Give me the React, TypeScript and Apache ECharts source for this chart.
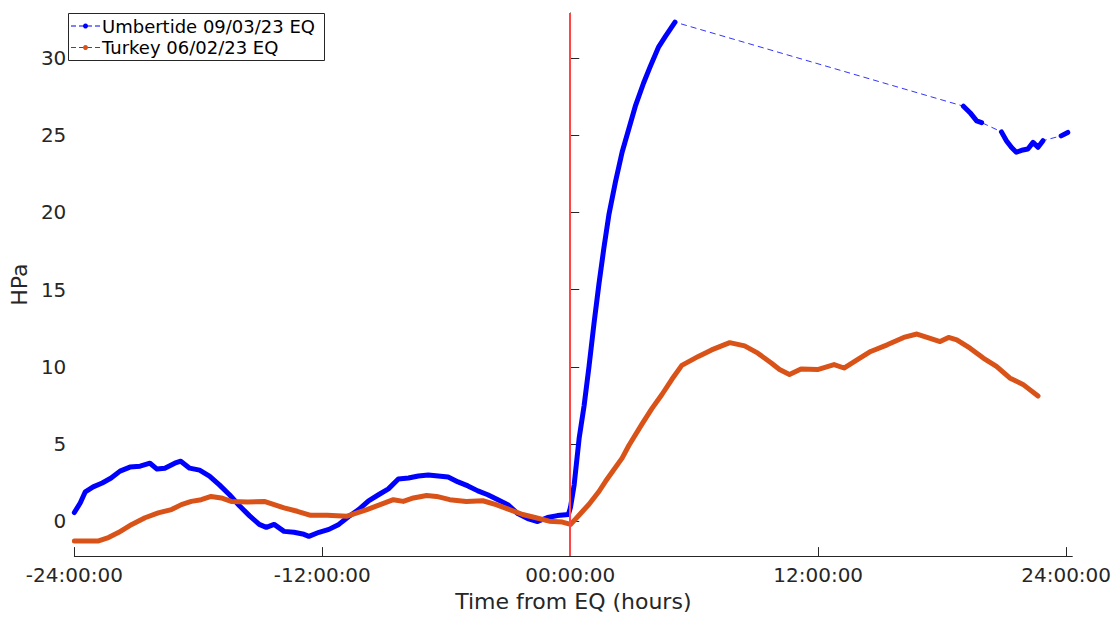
import { useEffect, useRef } from "react";
import * as echarts from "echarts";

const umbHours = [
  -24, -23.71, -23.47, -23.09, -22.65, -22.22, -21.79, -21.31, -20.82, -20.34, -20.0, -19.62, -19.14, -18.85,
  -18.42, -17.94, -17.46, -16.98, -16.49, -16.01, -15.53, -15.05, -14.71, -14.33, -13.85, -13.37, -12.89, -12.65,
  -12.16, -11.68, -11.2, -10.72, -10.24, -9.76, -9.28, -8.8, -8.32, -7.83, -7.35, -6.87, -6.39, -5.91, -5.43,
  -4.95, -4.47, -3.99, -3.5, -3.02, -2.54, -2.06, -1.58, -1.1, -0.62, -0.09, 0.01, 0.19, 0.43, 0.67, 0.91, 1.15,
  1.39, 1.63, 1.87, 2.19, 2.51, 2.83, 3.15, 3.55, 3.87, 4.28, 4.59, 5.07,
  19.03, 19.35, 19.67, 19.91, 20.87, 21.11, 21.35, 21.59, 21.91, 22.15, 22.4, 22.64, 22.88, 23.76, 24.08,
];
const umbHPa = [
  0.58, 1.21, 1.92, 2.24, 2.49, 2.81, 3.26, 3.52, 3.58, 3.77, 3.39, 3.45, 3.77, 3.9,
  3.45, 3.32, 2.94, 2.37, 1.73, 1.02, 0.38, -0.19, -0.38, -0.19, -0.64, -0.7, -0.83, -0.96,
  -0.7, -0.51, -0.19, 0.32, 0.77, 1.34, 1.73, 2.11, 2.75, 2.81, 2.94, 3.0, 2.94, 2.88, 2.56,
  2.3, 1.98, 1.73, 1.41, 1.09, 0.51, 0.19, 0.0, 0.26, 0.38, 0.45, 0.9, 2.37, 5.37, 7.48, 10.04, 12.81,
  15.37, 17.71, 19.84, 21.98, 23.89, 25.38, 26.87, 28.37, 29.43, 30.71, 31.35, 32.31,
  26.87, 26.45, 25.92, 25.81, 25.21, 24.64, 24.21, 23.89, 24.04, 24.1, 24.53, 24.21, 24.64, 24.95, 25.17,
];

const turHours = [
  -24, -22.83, -22.35, -21.87, -21.22, -20.58, -19.94, -19.3, -18.82, -18.34, -17.86, -17.38, -16.89, -16.41,
  -15.61, -14.81, -14.33, -13.85, -13.21, -12.56, -11.76, -10.8, -9.84, -9.2, -8.56, -8.08, -7.59, -6.95, -6.47,
  -5.83, -5.03, -4.23, -3.59, -2.94, -2.3, -1.66, -1.02, -0.38, 0.02, 0.6, 0.9, 1.39, 1.71, 2.03, 2.51, 2.83,
  3.47, 3.95, 4.43, 4.92, 5.4, 6.2, 6.84, 7.72, 8.44, 9.08, 9.73, 10.13, 10.61, 11.17, 11.97, 12.77, 13.25, 13.9,
  14.54, 15.34, 16.14, 16.78, 17.42, 17.9, 18.31, 18.71, 19.35, 19.99, 20.63, 21.27, 21.91, 22.64,
];
const turHPa = [
  -1.26, -1.26, -1.04, -0.72, -0.19, 0.24, 0.56, 0.77, 1.09, 1.3, 1.41, 1.62, 1.52, 1.3,
  1.26, 1.3, 1.09, 0.88, 0.66, 0.4, 0.4, 0.34, 0.77, 1.09, 1.41, 1.3, 1.52, 1.68, 1.62,
  1.41, 1.3, 1.34, 1.09, 0.77, 0.45, 0.24, 0.02, -0.04, -0.19, 0.66, 1.1, 1.94, 2.6, 3.2, 4.1, 4.9,
  6.3, 7.3, 8.2, 9.2, 10.1, 10.68, 11.1, 11.57, 11.36, 10.89, 10.25, 9.83, 9.51, 9.87, 9.83, 10.15, 9.93, 10.47,
  11.0, 11.43, 11.91, 12.13, 11.85, 11.64, 11.91, 11.75, 11.21, 10.57, 10.04, 9.29, 8.87, 8.12,
];

const xTicks = [-24, -12, 0, 12, 24];
const yTicks = [0, 5, 10, 15, 20, 25, 30];
const seriesNames = ["Umbertide 09/03/23 EQ", "Turkey 06/02/23 EQ"];
const eqHour = 0;

const FONT = "DejaVu Sans";
const BLUE = "#0000ff";
const ORANGE = "#d95319";

function pairs(h: number[], v: number[]) {
  return h.map((x, i) => [x, v[i]]);
}
function withGaps(h: number[], v: number[], maxStep: number) {
  const out: any[] = [];
  for (let i = 0; i < h.length; i++) {
    if (i > 0 && h[i] - h[i - 1] > maxStep) out.push([(h[i] + h[i - 1]) / 2, "-"]);
    out.push([h[i], v[i]]);
  }
  return out;
}
function fmtHour(v: number) {
  const a = Math.abs(v);
  return (v < 0 ? "-" : "") + String(a).padStart(2, "0") + ":00:00";
}

export default function App() {
  const ref = useRef<HTMLDivElement>(null);
  useEffect(() => {
    document.body.style.margin = "0";
    const chart = echarts.init(ref.current!, null, { renderer: "svg" });
    const axisColor = "#262626";
    chart.setOption({
      animation: false,
      backgroundColor: "#ffffff",
      grid: { left: 69, top: 13, right: 41, bottom: 55, containLabel: false },
      xAxis: {
        type: "value",
        min: -24,
        max: 24.3,
        name: "Time from EQ (hours)",
        nameLocation: "middle",
        nameGap: 32,
        nameTextStyle: { fontFamily: FONT, fontSize: 22, color: axisColor },
        axisLine: { onZero: false, lineStyle: { color: axisColor, width: 1 } },
        axisTick: { inside: true, length: 9, customValues: xTicks, lineStyle: { color: axisColor } },
        axisLabel: {
          customValues: xTicks,
          formatter: (v: number) => fmtHour(v),
          fontFamily: FONT,
          fontSize: 20,
          color: axisColor,
          margin: 9,
          alignMinLabel: "center",
          alignMaxLabel: "center",
        },
        splitLine: { show: false },
      },
      yAxis: {
        type: "value",
        min: -2.24,
        max: 32.9,
        name: "HPa",
        nameLocation: "middle",
        nameGap: 38,
        nameTextStyle: { fontFamily: FONT, fontSize: 22, color: axisColor },
        axisLine: { show: true, lineStyle: { color: axisColor, width: 1 } },
        axisTick: { show: true, inside: true, length: 9, customValues: yTicks, lineStyle: { color: axisColor } },
        axisLabel: {
          customValues: yTicks,
          fontFamily: FONT,
          fontSize: 20,
          color: axisColor,
          margin: 8,
        },
        splitLine: { show: false },
      },
      series: [
        {
          name: seriesNames[0] + " (link)",
          type: "line",
          data: pairs(umbHours, umbHPa),
          symbol: "none",
          lineStyle: { color: BLUE, width: 1, type: [6, 4], opacity: 0.8 },
          z: 2,
        },
        {
          name: seriesNames[0],
          type: "line",
          data: withGaps(umbHours, umbHPa, 0.7),
          symbol: "none",
          connectNulls: false,
          lineStyle: { color: BLUE, width: 5, cap: "round", join: "round" },
          z: 3,
        },
        {
          name: seriesNames[1],
          type: "line",
          data: pairs(turHours, turHPa),
          symbol: "none",
          lineStyle: { color: ORANGE, width: 5, cap: "round", join: "round" },
          z: 4,
          markLine: {
            silent: true,
            symbol: ["none", "none"],
            label: { show: false },
            emphasis: { disabled: true },
            lineStyle: { color: "#ff4545", width: 2, type: "solid", opacity: 1 },
            data: [{ xAxis: eqHour }],
            z: 10,
          },
        },
      ],
      graphic: [
        {
          type: "group",
          z: 100,
          children: [
            {
              type: "rect",
              shape: { x: 68.5, y: 13.5, width: 256, height: 47 },
              style: { fill: "#ffffff", stroke: "#262626", lineWidth: 1 },
            },
            {
              type: "line",
              shape: { x1: 71, y1: 26, x2: 100, y2: 26 },
              style: { stroke: BLUE, lineWidth: 1, lineDash: [5, 3] },
            },
            { type: "circle", shape: { cx: 85.5, cy: 26, r: 2.5 }, style: { fill: BLUE } },
            {
              type: "text",
              x: 102,
              y: 26,
              style: { text: seriesNames[0], fontFamily: FONT, fontSize: 18, fill: "#000", verticalAlign: "middle" },
            },
            {
              type: "line",
              shape: { x1: 71, y1: 47.5, x2: 100, y2: 47.5 },
              style: { stroke: "#ff0000", lineWidth: 1, lineDash: [5, 3] },
            },
            { type: "circle", shape: { cx: 85.5, cy: 47.5, r: 2.5 }, style: { fill: ORANGE } },
            {
              type: "text",
              x: 102,
              y: 47.5,
              style: { text: seriesNames[1], fontFamily: FONT, fontSize: 18, fill: "#000", verticalAlign: "middle" },
            },
          ],
        },
      ],
    });
    return () => chart.dispose();
  }, []);
  return <div ref={ref} style={{ width: 1114, height: 617 }} />;
}
